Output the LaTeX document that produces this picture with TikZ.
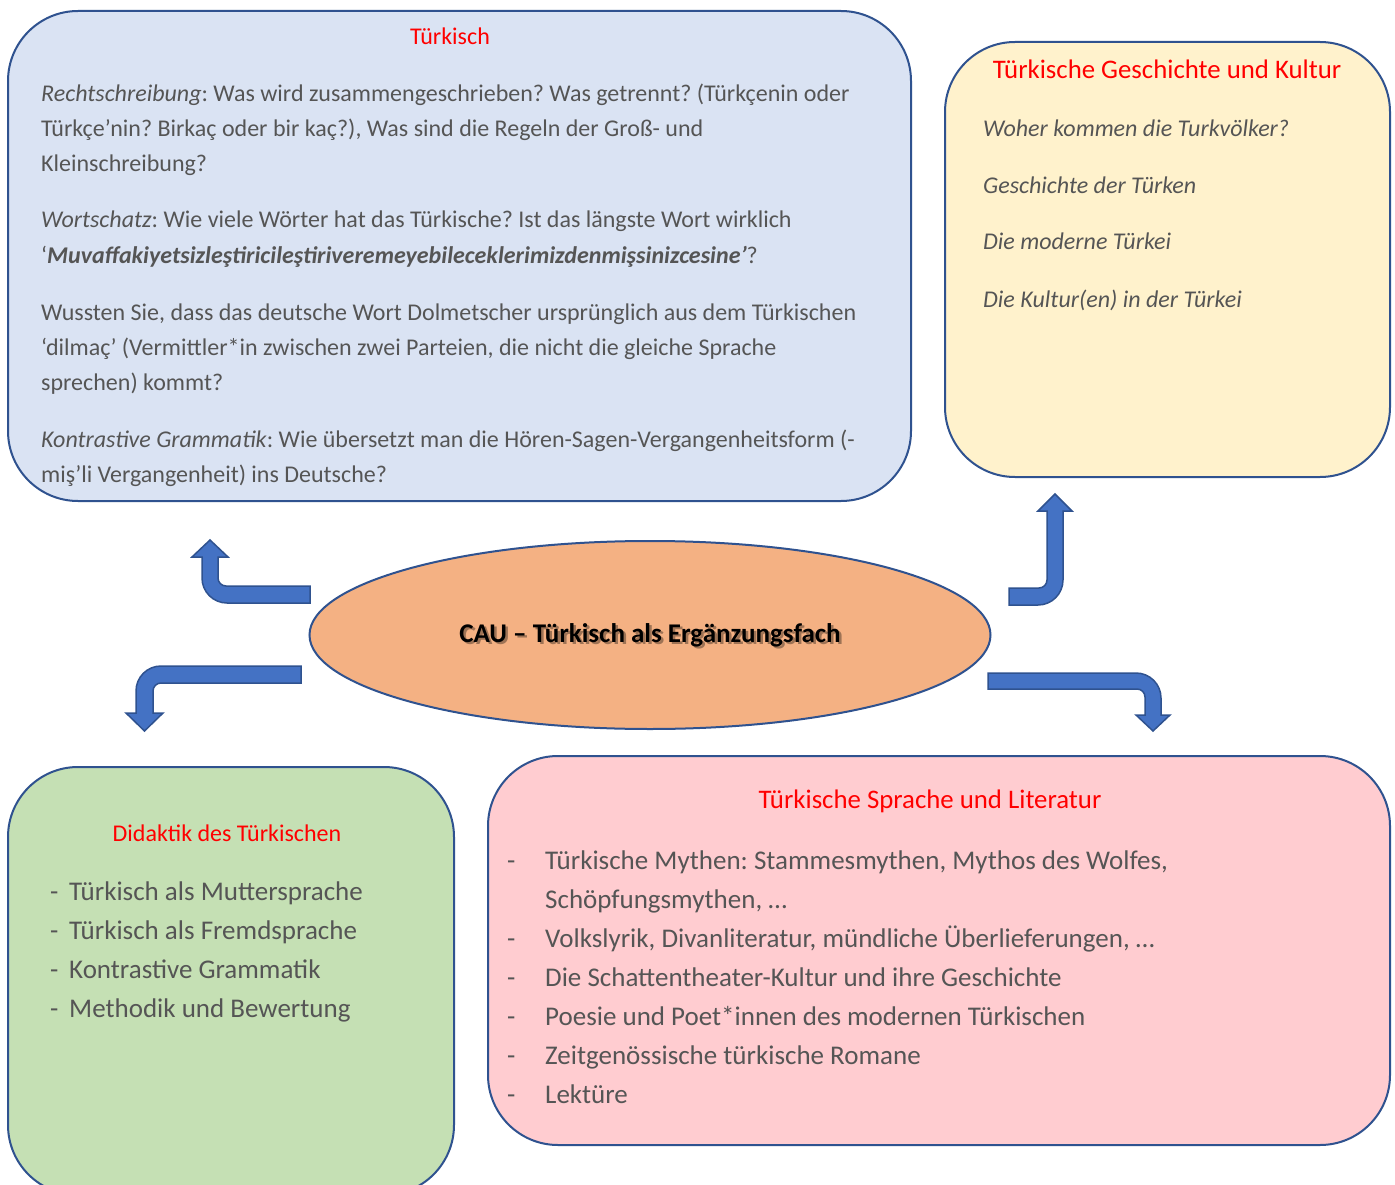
\documentclass[tikz,border=0pt]{standalone}
\usepackage{fontspec}
\setmainfont{Carlito}
\usetikzlibrary{shapes.geometric}
\definecolor{edge}{HTML}{2F528F}
\definecolor{arrowblue}{HTML}{4472C4}
\definecolor{blueF}{HTML}{DAE3F3}
\definecolor{yellowF}{HTML}{FFF2CC}
\definecolor{greenF}{HTML}{C5E0B4}
\definecolor{pinkF}{HTML}{FFCCD0}
\definecolor{ellF}{HTML}{F4B183}
\definecolor{txt}{HTML}{555555}
\definecolor{ttl}{HTML}{FF0000}
\frenchspacing
\begin{document}
\begin{tikzpicture}[x=1pt,y=-1pt,
  box/.style={draw=edge,line width=2pt,rounded corners=70pt,inner sep=0pt},
  ttlA/.style={anchor=base,text=ttl,font=\fontsize{24}{29}\selectfont,inner sep=0pt},
  ttlB/.style={anchor=base,text=ttl,font=\fontsize{26.8}{32}\selectfont,inner sep=0pt},
  smalltxt/.style={anchor=base west,text=txt,font=\fontsize{24}{29}\selectfont,inner sep=0pt},
  bigtxt/.style={anchor=base west,text=txt,font=\fontsize{27}{32}\selectfont,inner sep=0pt},
  itxt/.style={anchor=base west,text=txt,font=\fontsize{24}{29}\selectfont\itshape,inner sep=0pt},
  bentarrow/.style={fill=arrowblue,draw=edge,line width=1.5pt,line join=miter}]
\useasboundingbox (0,0) rectangle (1395,1185);
\fill[white] (0,0) rectangle (1395,1185);

% boxes
\node[box,fill=blueF,minimum width=903pt,minimum height=490pt] (tbox) at (459.5,256) {};
\node[box,fill=yellowF,minimum width=445pt,minimum height=435pt] (gbox) at (1167.5,259.5) {};
\node[box,fill=greenF,minimum width=446pt,minimum height=428pt] (dbox) at (231,981) {};
\node[box,fill=pinkF,minimum width=902pt,minimum height=389pt] (sbox) at (939,950.5) {};
\node[ellipse,draw=edge,line width=2pt,fill=ellF,minimum width=681pt,minimum height=188pt,inner sep=0pt] (cau) at (650,635) {};

% centre text with shadow
\node[anchor=base,inner sep=0pt,text=black,opacity=0.35,font=\fontsize{27}{32}\selectfont\bfseries] (caushadow) at (652.5,644.5) {CAU – Türkisch als Ergänzungsfach};
\node[anchor=base,inner sep=0pt,text=black,font=\fontsize{27}{32}\selectfont\bfseries] (cautext) at (650,642) {CAU – Türkisch als Ergänzungsfach};

% Türkisch box
\node[ttlA] (t0) at (450,45) {Türkisch};
\node[smalltxt] (t1) at (41,102) {\textit{Rechtschreibung}: Was wird zusammengeschrieben? Was getrennt? (Türkçenin oder};
\node[smalltxt] (t2) at (41,137) {Türkçe’nin? Birkaç oder bir kaç?), Was sind die Regeln der Groß- und};
\node[smalltxt] (t3) at (41,172) {Kleinschreibung?};
\node[smalltxt] (t4) at (41,228) {\textit{Wortschatz}: Wie viele Wörter hat das Türkische? Ist das längste Wort wirklich};
\node[smalltxt] (t5) at (41,263) {‘\textbf{\textit{Muvaffakiyetsizleştiricileştiriveremeyebileceklerimizdenmişsinizcesine’}}?};
\node[smalltxt] (t6) at (41,320) {Wussten Sie, dass das deutsche Wort Dolmetscher ursprünglich aus dem Türkischen};
\node[smalltxt] (t7) at (41,355) {‘dilmaç’ (Vermittler*in zwischen zwei Parteien, die nicht die gleiche Sprache};
\node[smalltxt] (t8) at (41,390) {sprechen) kommt?};
\node[smalltxt] (t9) at (41,447) {\textit{Kontrastive Grammatik}: Wie übersetzt man die Hören-Sagen-Vergangenheitsform (-};
\node[smalltxt] (t10) at (41,482) {miş’li Vergangenheit) ins Deutsche?};

% Geschichte box
\node[ttlB] (g0) at (1167,79) {Türkische Geschichte und Kultur};
\node[itxt] (g1) at (983,137) {Woher kommen die Turkvölker?};
\node[itxt] (g2) at (983,194) {Geschichte der Türken};
\node[itxt] (g3) at (983,250) {Die moderne Türkei};
\node[itxt] (g4) at (983,307) {Die Kultur(en) in der Türkei};

% Didaktik box
\node[ttlA] (d0) at (227,841) {Didaktik des Türkischen};
\node[bigtxt] (dd1) at (50,900) {-};
\node[bigtxt] (d1) at (69,900) {Türkisch als Muttersprache};
\node[bigtxt] (dd2) at (50,939) {-};
\node[bigtxt] (d2) at (69,939) {Türkisch als Fremdsprache};
\node[bigtxt] (dd3) at (50,978) {-};
\node[bigtxt] (d3) at (69,978) {Kontrastive Grammatik};
\node[bigtxt] (dd4) at (50,1017) {-};
\node[bigtxt] (d4) at (69,1017) {Methodik und Bewertung};

% Sprache box
\node[ttlB] (s0) at (930,808) {Türkische Sprache und Literatur};
\node[bigtxt] (sd1) at (507,869) {-};
\node[bigtxt] (s1) at (545,869) {Türkische Mythen: Stammesmythen, Mythos des Wolfes,};
\node[bigtxt] (s1b) at (545,908) {Schöpfungsmythen, …};
\node[bigtxt] (sd2) at (507,947) {-};
\node[bigtxt] (s2) at (545,947) {Volkslyrik, Divanliteratur, mündliche Überlieferungen, …};
\node[bigtxt] (sd3) at (507,986) {-};
\node[bigtxt] (s3) at (545,986) {Die Schattentheater-Kultur und ihre Geschichte};
\node[bigtxt] (sd4) at (507,1025) {-};
\node[bigtxt] (s4) at (545,1025) {Poesie und Poet*innen des modernen Türkischen};
\node[bigtxt] (sd5) at (507,1064) {-};
\node[bigtxt] (s5) at (545,1064) {Zeitgenössische türkische Romane};
\node[bigtxt] (sd6) at (507,1103) {-};
\node[bigtxt] (s6) at (545,1103) {Lektüre};

% bent arrows
% top-left
\draw[bentarrow] (310,586) -- (226,586) .. controls (221.6,586) and (218,582.4) .. (218,578)
  -- (218,557) -- (228,557) -- (210,540) -- (192,557) -- (202,557) -- (202,578)
  .. controls (202,591.8) and (213.2,603) .. (227,603) -- (310,603) -- cycle;
% bottom-left
\draw[bentarrow] (301,666) -- (161,666) .. controls (147.2,666) and (136,677.2) .. (136,691)
  -- (136,713) -- (126,713) -- (144.5,731) -- (163,713) -- (153,713) -- (153,691)
  .. controls (153,686.6) and (156.6,683) .. (161,683) -- (301,683) -- cycle;
% top-right
\draw[bentarrow] (1009,588) -- (1039,588) .. controls (1043.4,588) and (1047,584.4) .. (1047,580)
  -- (1047,511) -- (1038,511) -- (1055,494) -- (1072,511) -- (1063,511) -- (1063,580)
  .. controls (1063,593.8) and (1051.8,605) .. (1038,605) -- (1009,605) -- cycle;
% bottom-right
\draw[bentarrow] (988,673) -- (1136,673) .. controls (1149.8,673) and (1161,684.2) .. (1161,698)
  -- (1161,715) -- (1170,715) -- (1153,731) -- (1136,715) -- (1145,715) -- (1145,697)
  .. controls (1145,692.6) and (1141.4,689) .. (1137,689) -- (988,689) -- cycle;
\end{tikzpicture}
\end{document}
